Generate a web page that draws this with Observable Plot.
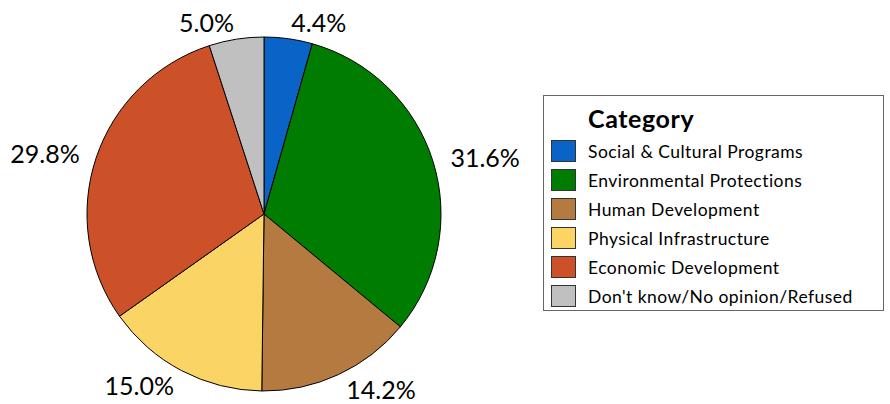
<!DOCTYPE html>
<html>
<head>
<meta charset="utf-8">
<script src="https://cdn.jsdelivr.net/npm/d3@7"></script>
<script src="https://cdn.jsdelivr.net/npm/@observablehq/plot@0.6"></script>
<style>
  html, body { margin: 0; padding: 0; background: #fff; }
  #wrap { position: relative; width: 890px; height: 404px; font-family: Lato, "Open Sans", sans-serif; }
  #legend { position: absolute; left: 543px; top: 95px; width: 339px; height: 214px; border: 1.5px solid #666; background: #fff; }
  #legend .title { position: absolute; left: 44px; top: 7px; font-weight: bold; font-size: 25px; letter-spacing: 0.6px; color: #000; }
  #legend .item { position: absolute; left: 7px; height: 22px; display: flex; align-items: center; font-size: 17.5px; letter-spacing: 0.45px; color: #000; white-space: nowrap; }
  #legend .sw { width: 23px; height: 20px; border: 1.5px solid #333; margin-right: 12px; flex: none; }
</style>
</head>
<body>
<div id="wrap"></div>
<script>
const categories = ["Social & Cultural Programs", "Environmental Protections", "Human Development", "Physical Infrastructure", "Economic Development", "Don't know/No opinion/Refused"];
const values = [4.4, 31.6, 14.2, 15.0, 29.8, 5.0];
const labels = ["4.4%", "31.6%", "14.2%", "15.0%", "29.8%", "5.0%"];
const colors = ["#0a64c8", "#007d00", "#b47a40", "#fbd466", "#cc5028", "#c0c0c0"];

const pie = d3.pie().sort(null).value(d => d.value)(categories.map((c, i) => ({category: c, value: values[i], label: labels[i], color: colors[i]})));
const slices = pie.map(p => {
  const mid = (p.startAngle + p.endAngle) / 2;
  const ly = 1.1 * Math.cos(mid);
  return {...p.data, startAngle: p.startAngle, endAngle: p.endAngle, mid, lx: 1.1 * Math.sin(mid), ly: ly > 0 ? ly - 0.012 : ly};
});

function arcs(index, scales) {
  const x = scales.x, y = scales.y;
  const cx = x(0), cy = y(0), r = x(1) - x(0);
  const g = d3.create("svg:g").attr("transform", `translate(${cx},${cy})`);
  const arc = d3.arc().innerRadius(0).outerRadius(r);
  g.selectAll("path").data(slices).join("path")
    .attr("d", d => arc(d))
    .attr("fill", d => d.color)
    .attr("stroke", "#000")
    .attr("stroke-width", 1)
    .attr("stroke-linejoin", "round");
  return g.node();
}

const chart = Plot.plot({
  width: 890,
  height: 404,
  margin: 0,
  x: {domain: [-1, 1], range: [87, 441], axis: null},
  y: {domain: [-1, 1], range: [391, 37], axis: null},
  style: {fontFamily: "Lato, 'Open Sans', sans-serif", background: "#fff"},
  marks: [
    arcs,
    Plot.text(slices.filter(d => d.lx >= 0), {x: "lx", y: "ly", text: "label", textAnchor: "start", fontSize: 25, fill: "#000"}),
    Plot.text(slices.filter(d => d.lx < 0), {x: "lx", y: "ly", text: "label", textAnchor: "end", fontSize: 25, fill: "#000"})
  ]
});

const wrap = document.getElementById("wrap");
wrap.appendChild(chart);

const legend = document.createElement("div");
legend.id = "legend";
const t = document.createElement("div");
t.className = "title";
t.textContent = "Category";
legend.appendChild(t);
categories.forEach((c, i) => {
  const it = document.createElement("div");
  it.className = "item";
  it.style.top = (44 + i * 29) + "px";
  const sw = document.createElement("div");
  sw.className = "sw";
  sw.style.background = colors[i];
  const tx = document.createElement("span");
  tx.textContent = c;
  it.appendChild(sw);
  it.appendChild(tx);
  legend.appendChild(it);
});
wrap.appendChild(legend);
</script>
</body>
</html>
